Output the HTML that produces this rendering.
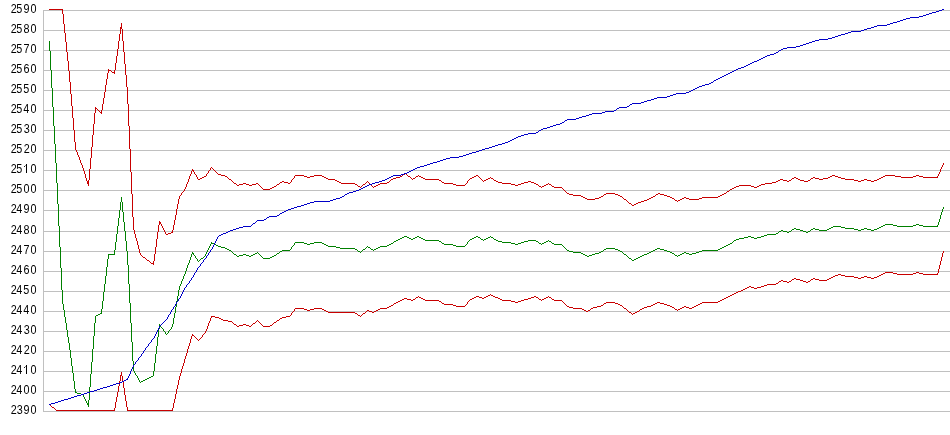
<!DOCTYPE html>
<html><head><meta charset="utf-8"><style>
html,body{margin:0;padding:0;background:#fff;width:950px;height:435px;overflow:hidden}
svg{display:block}
text{will-change:transform;font-family:"Liberation Sans",sans-serif;font-size:12px;fill:#000;text-anchor:start}
</style></head><body>
<svg width="950" height="435" viewBox="0 0 950 435" shape-rendering="crispEdges">
<rect width="950" height="435" fill="#fff"/>
<path fill="#c0c0c0" d="M43 10h907v1h-907zM43 30h907v1h-907zM43 50h907v1h-907zM43 70h907v1h-907zM43 90h907v1h-907zM43 110h907v1h-907zM43 130h907v1h-907zM43 150h907v1h-907zM43 170h907v1h-907zM43 190h907v1h-907zM43 210h907v1h-907zM43 231h907v1h-907zM43 251h907v1h-907zM43 271h907v1h-907zM43 291h907v1h-907zM43 311h907v1h-907zM43 331h907v1h-907zM43 351h907v1h-907zM43 371h907v1h-907zM43 391h907v1h-907zM43 411h907v1h-907zM43 10h1v402h-1z"/>
<g><text transform="translate(10.75 13) scale(0.90 1)">2</text><text transform="translate(16.25 13) scale(0.90 1)">5</text><text transform="translate(23.50 13) scale(0.90 1)">9</text><text transform="translate(30.50 13) scale(0.90 1)">0</text><text transform="translate(10.75 33) scale(0.90 1)">2</text><text transform="translate(16.25 33) scale(0.90 1)">5</text><text transform="translate(23.50 33) scale(0.90 1)">8</text><text transform="translate(30.50 33) scale(0.90 1)">0</text><text transform="translate(10.75 53) scale(0.90 1)">2</text><text transform="translate(16.25 53) scale(0.90 1)">5</text><text transform="translate(23.50 53) scale(0.90 1)">7</text><text transform="translate(30.50 53) scale(0.90 1)">0</text><text transform="translate(10.75 73) scale(0.90 1)">2</text><text transform="translate(16.25 73) scale(0.90 1)">5</text><text transform="translate(23.50 73) scale(0.90 1)">6</text><text transform="translate(30.50 73) scale(0.90 1)">0</text><text transform="translate(10.75 93) scale(0.90 1)">2</text><text transform="translate(16.25 93) scale(0.90 1)">5</text><text transform="translate(23.25 93) scale(0.90 1)">5</text><text transform="translate(30.50 93) scale(0.90 1)">0</text><text transform="translate(10.75 113) scale(0.90 1)">2</text><text transform="translate(16.25 113) scale(0.90 1)">5</text><text transform="translate(23.25 113) scale(0.90 1)">4</text><text transform="translate(30.50 113) scale(0.90 1)">0</text><text transform="translate(10.75 133) scale(0.90 1)">2</text><text transform="translate(16.25 133) scale(0.90 1)">5</text><text transform="translate(23.75 133) scale(0.90 1)">3</text><text transform="translate(30.50 133) scale(0.90 1)">0</text><text transform="translate(10.75 153) scale(0.90 1)">2</text><text transform="translate(16.25 153) scale(0.90 1)">5</text><text transform="translate(23.75 153) scale(0.90 1)">2</text><text transform="translate(30.50 153) scale(0.90 1)">0</text><text transform="translate(10.75 173) scale(0.90 1)">2</text><text transform="translate(16.25 173) scale(0.90 1)">5</text><path fill="#000" d="M26 164h1v9h-1z"/><path fill="#1a1a1a" d="M24 166h1v1h-1z"/><path fill="#8a8a8a" d="M25 165h1v1h-1z"/><text transform="translate(30.50 173) scale(0.90 1)">0</text><text transform="translate(10.75 193) scale(0.90 1)">2</text><text transform="translate(16.25 193) scale(0.90 1)">5</text><text transform="translate(23.50 193) scale(0.90 1)">0</text><text transform="translate(30.50 193) scale(0.90 1)">0</text><text transform="translate(10.75 213) scale(0.90 1)">2</text><text transform="translate(16.25 213) scale(0.90 1)">4</text><text transform="translate(23.50 213) scale(0.90 1)">9</text><text transform="translate(30.50 213) scale(0.90 1)">0</text><text transform="translate(10.75 234) scale(0.90 1)">2</text><text transform="translate(16.25 234) scale(0.90 1)">4</text><text transform="translate(23.50 234) scale(0.90 1)">8</text><text transform="translate(30.50 234) scale(0.90 1)">0</text><text transform="translate(10.75 254) scale(0.90 1)">2</text><text transform="translate(16.25 254) scale(0.90 1)">4</text><text transform="translate(23.50 254) scale(0.90 1)">7</text><text transform="translate(30.50 254) scale(0.90 1)">0</text><text transform="translate(10.75 274) scale(0.90 1)">2</text><text transform="translate(16.25 274) scale(0.90 1)">4</text><text transform="translate(23.50 274) scale(0.90 1)">6</text><text transform="translate(30.50 274) scale(0.90 1)">0</text><text transform="translate(10.75 294) scale(0.90 1)">2</text><text transform="translate(16.25 294) scale(0.90 1)">4</text><text transform="translate(23.25 294) scale(0.90 1)">5</text><text transform="translate(30.50 294) scale(0.90 1)">0</text><text transform="translate(10.75 314) scale(0.90 1)">2</text><text transform="translate(16.25 314) scale(0.90 1)">4</text><text transform="translate(23.25 314) scale(0.90 1)">4</text><text transform="translate(30.50 314) scale(0.90 1)">0</text><text transform="translate(10.75 334) scale(0.90 1)">2</text><text transform="translate(16.25 334) scale(0.90 1)">4</text><text transform="translate(23.75 334) scale(0.90 1)">3</text><text transform="translate(30.50 334) scale(0.90 1)">0</text><text transform="translate(10.75 354) scale(0.90 1)">2</text><text transform="translate(16.25 354) scale(0.90 1)">4</text><text transform="translate(23.75 354) scale(0.90 1)">2</text><text transform="translate(30.50 354) scale(0.90 1)">0</text><text transform="translate(10.75 374) scale(0.90 1)">2</text><text transform="translate(16.25 374) scale(0.90 1)">4</text><path fill="#000" d="M26 365h1v9h-1z"/><path fill="#1a1a1a" d="M24 367h1v1h-1z"/><path fill="#8a8a8a" d="M25 366h1v1h-1z"/><text transform="translate(30.50 374) scale(0.90 1)">0</text><text transform="translate(10.75 394) scale(0.90 1)">2</text><text transform="translate(16.25 394) scale(0.90 1)">4</text><text transform="translate(23.50 394) scale(0.90 1)">0</text><text transform="translate(30.50 394) scale(0.90 1)">0</text><text transform="translate(10.75 414) scale(0.90 1)">2</text><text transform="translate(16.75 414) scale(0.90 1)">3</text><text transform="translate(23.50 414) scale(0.90 1)">9</text><text transform="translate(30.50 414) scale(0.90 1)">0</text></g>
<path fill="#c80000" d="M49 9h14v1h-14zM62 10h1v1h-1zM62 11h1v1h-1zM62 12h1v1h-1zM62 13h1v1h-1zM63 14h1v1h-1zM63 15h1v1h-1zM63 16h1v1h-1zM63 17h1v1h-1zM63 18h1v1h-1zM63 19h1v1h-1zM63 20h1v1h-1zM63 21h1v1h-1zM63 22h1v1h-1zM63 23h1v1h-1zM121 23h1v1h-1zM64 24h1v1h-1zM121 24h1v1h-1zM64 25h1v1h-1zM121 25h1v1h-1zM64 26h1v1h-1zM121 26h1v1h-1zM64 27h1v1h-1zM120 27h2v1h-2zM64 28h1v1h-1zM120 28h2v1h-2zM64 29h1v1h-1zM120 29h1v1h-1zM122 29h1v1h-1zM64 30h1v1h-1zM120 30h1v1h-1zM122 30h1v1h-1zM64 31h1v1h-1zM120 31h1v1h-1zM122 31h1v1h-1zM64 32h1v1h-1zM120 32h1v1h-1zM122 32h1v1h-1zM65 33h1v1h-1zM120 33h1v1h-1zM122 33h1v1h-1zM65 34h1v1h-1zM119 34h1v1h-1zM122 34h1v1h-1zM65 35h1v1h-1zM119 35h1v1h-1zM122 35h1v1h-1zM65 36h1v1h-1zM119 36h1v1h-1zM122 36h1v1h-1zM65 37h1v1h-1zM119 37h1v1h-1zM122 37h1v1h-1zM65 38h1v1h-1zM119 38h1v1h-1zM122 38h1v1h-1zM65 39h1v1h-1zM119 39h1v1h-1zM122 39h1v1h-1zM65 40h1v1h-1zM119 40h1v1h-1zM122 40h1v1h-1zM65 41h1v1h-1zM118 41h1v1h-1zM123 41h1v1h-1zM66 42h1v1h-1zM118 42h1v1h-1zM123 42h1v1h-1zM66 43h1v1h-1zM118 43h1v1h-1zM123 43h1v1h-1zM66 44h1v1h-1zM118 44h1v1h-1zM123 44h1v1h-1zM66 45h1v1h-1zM118 45h1v1h-1zM123 45h1v1h-1zM66 46h1v1h-1zM118 46h1v1h-1zM123 46h1v1h-1zM66 47h1v1h-1zM118 47h1v1h-1zM123 47h1v1h-1zM66 48h1v1h-1zM118 48h1v1h-1zM123 48h1v1h-1zM66 49h1v1h-1zM117 49h1v1h-1zM123 49h1v1h-1zM66 50h1v1h-1zM117 50h1v1h-1zM123 50h1v1h-1zM66 51h1v1h-1zM117 51h1v1h-1zM123 51h1v1h-1zM67 52h1v1h-1zM117 52h1v1h-1zM124 52h1v1h-1zM67 53h1v1h-1zM117 53h1v1h-1zM124 53h1v1h-1zM67 54h1v1h-1zM117 54h1v1h-1zM124 54h1v1h-1zM67 55h1v1h-1zM117 55h1v1h-1zM124 55h1v1h-1zM67 56h1v1h-1zM116 56h1v1h-1zM124 56h1v1h-1zM67 57h1v1h-1zM116 57h1v1h-1zM124 57h1v1h-1zM67 58h1v1h-1zM116 58h1v1h-1zM124 58h1v1h-1zM67 59h1v1h-1zM116 59h1v1h-1zM124 59h1v1h-1zM67 60h1v1h-1zM116 60h1v1h-1zM124 60h1v1h-1zM68 61h1v1h-1zM116 61h1v1h-1zM124 61h1v1h-1zM68 62h1v1h-1zM116 62h1v1h-1zM124 62h1v1h-1zM68 63h1v1h-1zM115 63h1v1h-1zM124 63h1v1h-1zM68 64h1v1h-1zM115 64h1v1h-1zM125 64h1v1h-1zM68 65h1v1h-1zM115 65h1v1h-1zM125 65h1v1h-1zM68 66h1v1h-1zM115 66h1v1h-1zM125 66h1v1h-1zM68 67h1v1h-1zM115 67h1v1h-1zM125 67h1v1h-1zM68 68h1v1h-1zM115 68h1v1h-1zM125 68h1v1h-1zM68 69h1v1h-1zM108 69h1v1h-1zM115 69h1v1h-1zM125 69h1v1h-1zM68 70h1v1h-1zM108 70h3v1h-3zM114 70h1v1h-1zM125 70h1v1h-1zM69 71h1v1h-1zM108 71h1v1h-1zM111 71h1v1h-1zM114 71h1v1h-1zM125 71h1v1h-1zM69 72h1v1h-1zM108 72h1v1h-1zM112 72h3v1h-3zM125 72h1v1h-1zM69 73h1v1h-1zM107 73h1v1h-1zM114 73h1v1h-1zM125 73h1v1h-1zM69 74h1v1h-1zM107 74h1v1h-1zM125 74h1v1h-1zM69 75h1v1h-1zM107 75h1v1h-1zM126 75h1v1h-1zM69 76h1v1h-1zM107 76h1v1h-1zM126 76h1v1h-1zM69 77h1v1h-1zM107 77h1v1h-1zM126 77h1v1h-1zM69 78h1v1h-1zM107 78h1v1h-1zM126 78h1v1h-1zM69 79h1v1h-1zM106 79h1v1h-1zM126 79h1v1h-1zM69 80h1v1h-1zM106 80h1v1h-1zM126 80h1v1h-1zM69 81h1v1h-1zM106 81h1v1h-1zM126 81h1v1h-1zM70 82h1v1h-1zM106 82h1v1h-1zM126 82h1v1h-1zM70 83h1v1h-1zM106 83h1v1h-1zM126 83h1v1h-1zM70 84h1v1h-1zM106 84h1v1h-1zM126 84h1v1h-1zM70 85h1v1h-1zM105 85h1v1h-1zM126 85h1v1h-1zM70 86h1v1h-1zM105 86h1v1h-1zM126 86h1v1h-1zM70 87h1v1h-1zM105 87h1v1h-1zM127 87h1v1h-1zM70 88h1v1h-1zM105 88h1v1h-1zM127 88h1v1h-1zM70 89h1v1h-1zM105 89h1v1h-1zM127 89h1v1h-1zM70 90h1v1h-1zM105 90h1v1h-1zM127 90h1v1h-1zM70 91h1v1h-1zM105 91h1v1h-1zM127 91h1v1h-1zM70 92h1v1h-1zM104 92h1v1h-1zM127 92h1v1h-1zM70 93h1v1h-1zM104 93h1v1h-1zM127 93h1v1h-1zM71 94h1v1h-1zM104 94h1v1h-1zM127 94h1v1h-1zM71 95h1v1h-1zM104 95h1v1h-1zM127 95h1v1h-1zM71 96h1v1h-1zM104 96h1v1h-1zM127 96h1v1h-1zM71 97h1v1h-1zM104 97h1v1h-1zM127 97h1v1h-1zM71 98h1v1h-1zM103 98h1v1h-1zM127 98h1v1h-1zM71 99h1v1h-1zM103 99h1v1h-1zM127 99h1v1h-1zM71 100h1v1h-1zM103 100h1v1h-1zM127 100h1v1h-1zM71 101h1v1h-1zM103 101h1v1h-1zM127 101h1v1h-1zM71 102h1v1h-1zM103 102h1v1h-1zM127 102h1v1h-1zM71 103h1v1h-1zM103 103h1v1h-1zM127 103h1v1h-1zM71 104h1v1h-1zM102 104h1v1h-1zM128 104h1v1h-1zM71 105h1v1h-1zM102 105h1v1h-1zM128 105h1v1h-1zM72 106h1v1h-1zM102 106h1v1h-1zM128 106h1v1h-1zM72 107h1v1h-1zM95 107h1v1h-1zM102 107h1v1h-1zM128 107h1v1h-1zM72 108h1v1h-1zM95 108h2v1h-2zM102 108h1v1h-1zM128 108h1v1h-1zM72 109h1v1h-1zM95 109h1v1h-1zM97 109h1v1h-1zM102 109h1v1h-1zM128 109h1v1h-1zM72 110h1v1h-1zM95 110h1v1h-1zM98 110h1v1h-1zM101 110h1v1h-1zM128 110h1v1h-1zM72 111h1v1h-1zM95 111h1v1h-1zM99 111h1v1h-1zM101 111h1v1h-1zM128 111h1v1h-1zM72 112h1v1h-1zM95 112h1v1h-1zM100 112h2v1h-2zM128 112h1v1h-1zM72 113h1v1h-1zM94 113h1v1h-1zM101 113h1v1h-1zM128 113h1v1h-1zM72 114h1v1h-1zM94 114h1v1h-1zM128 114h1v1h-1zM72 115h1v1h-1zM94 115h1v1h-1zM128 115h1v1h-1zM72 116h1v1h-1zM94 116h1v1h-1zM128 116h1v1h-1zM72 117h1v1h-1zM94 117h1v1h-1zM128 117h1v1h-1zM73 118h1v1h-1zM94 118h1v1h-1zM128 118h1v1h-1zM73 119h1v1h-1zM94 119h1v1h-1zM128 119h1v1h-1zM73 120h1v1h-1zM94 120h1v1h-1zM128 120h1v1h-1zM73 121h1v1h-1zM94 121h1v1h-1zM128 121h1v1h-1zM73 122h1v1h-1zM94 122h1v1h-1zM128 122h1v1h-1zM73 123h1v1h-1zM94 123h1v1h-1zM128 123h1v1h-1zM73 124h1v1h-1zM93 124h1v1h-1zM128 124h1v1h-1zM73 125h1v1h-1zM93 125h1v1h-1zM128 125h1v1h-1zM73 126h1v1h-1zM93 126h1v1h-1zM129 126h1v1h-1zM73 127h1v1h-1zM93 127h1v1h-1zM129 127h1v1h-1zM73 128h1v1h-1zM93 128h1v1h-1zM129 128h1v1h-1zM73 129h1v1h-1zM93 129h1v1h-1zM129 129h1v1h-1zM74 130h1v1h-1zM93 130h1v1h-1zM129 130h1v1h-1zM74 131h1v1h-1zM93 131h1v1h-1zM129 131h1v1h-1zM74 132h1v1h-1zM93 132h1v1h-1zM129 132h1v1h-1zM74 133h1v1h-1zM93 133h1v1h-1zM129 133h1v1h-1zM74 134h1v1h-1zM93 134h1v1h-1zM129 134h1v1h-1zM74 135h1v1h-1zM92 135h1v1h-1zM129 135h1v1h-1zM74 136h1v1h-1zM92 136h1v1h-1zM129 136h1v1h-1zM74 137h1v1h-1zM92 137h1v1h-1zM129 137h1v1h-1zM74 138h1v1h-1zM92 138h1v1h-1zM129 138h1v1h-1zM74 139h1v1h-1zM92 139h1v1h-1zM129 139h1v1h-1zM74 140h1v1h-1zM92 140h1v1h-1zM129 140h1v1h-1zM74 141h1v1h-1zM92 141h1v1h-1zM129 141h1v1h-1zM75 142h1v1h-1zM92 142h1v1h-1zM129 142h1v1h-1zM75 143h1v1h-1zM92 143h1v1h-1zM129 143h1v1h-1zM75 144h1v1h-1zM92 144h1v1h-1zM129 144h1v1h-1zM75 145h1v1h-1zM92 145h1v1h-1zM129 145h1v1h-1zM75 146h1v1h-1zM92 146h1v1h-1zM129 146h1v1h-1zM75 147h1v1h-1zM91 147h1v1h-1zM129 147h1v1h-1zM75 148h1v1h-1zM91 148h1v1h-1zM129 148h1v1h-1zM75 149h1v1h-1zM91 149h1v1h-1zM130 149h1v1h-1zM76 150h1v1h-1zM91 150h1v1h-1zM130 150h1v1h-1zM76 151h1v1h-1zM91 151h1v1h-1zM130 151h1v1h-1zM77 152h1v1h-1zM91 152h1v1h-1zM130 152h1v1h-1zM77 153h1v1h-1zM91 153h1v1h-1zM130 153h1v1h-1zM77 154h1v1h-1zM91 154h1v1h-1zM130 154h1v1h-1zM78 155h1v1h-1zM91 155h1v1h-1zM130 155h1v1h-1zM78 156h1v1h-1zM91 156h1v1h-1zM130 156h1v1h-1zM79 157h1v1h-1zM91 157h1v1h-1zM130 157h1v1h-1zM79 158h1v1h-1zM90 158h1v1h-1zM130 158h1v1h-1zM79 159h1v1h-1zM90 159h1v1h-1zM130 159h1v1h-1zM80 160h1v1h-1zM90 160h1v1h-1zM130 160h1v1h-1zM80 161h1v1h-1zM90 161h1v1h-1zM130 161h1v1h-1zM80 162h1v1h-1zM90 162h1v1h-1zM130 162h1v1h-1zM81 163h1v1h-1zM90 163h1v1h-1zM130 163h1v1h-1zM943 163h1v1h-1zM81 164h1v1h-1zM90 164h1v1h-1zM130 164h1v1h-1zM943 164h1v1h-1zM82 165h1v1h-1zM90 165h1v1h-1zM130 165h1v1h-1zM942 165h1v1h-1zM82 166h1v1h-1zM90 166h1v1h-1zM130 166h1v1h-1zM942 166h1v1h-1zM82 167h1v1h-1zM90 167h1v1h-1zM130 167h1v1h-1zM211 167h1v1h-1zM941 167h1v1h-1zM83 168h1v1h-1zM90 168h1v1h-1zM130 168h1v1h-1zM210 168h1v1h-1zM212 168h1v1h-1zM941 168h1v1h-1zM83 169h1v1h-1zM89 169h1v1h-1zM130 169h1v1h-1zM192 169h1v1h-1zM210 169h1v1h-1zM213 169h1v1h-1zM940 169h1v1h-1zM83 170h1v1h-1zM89 170h1v1h-1zM130 170h1v1h-1zM192 170h2v1h-2zM209 170h1v1h-1zM214 170h1v1h-1zM940 170h1v1h-1zM84 171h1v1h-1zM89 171h1v1h-1zM130 171h1v1h-1zM191 171h1v1h-1zM193 171h1v1h-1zM208 171h1v1h-1zM215 171h1v1h-1zM940 171h1v1h-1zM84 172h1v1h-1zM89 172h1v1h-1zM131 172h1v1h-1zM191 172h1v1h-1zM194 172h1v1h-1zM208 172h1v1h-1zM216 172h1v1h-1zM939 172h1v1h-1zM84 173h1v1h-1zM89 173h1v1h-1zM131 173h1v1h-1zM191 173h1v1h-1zM194 173h1v1h-1zM207 173h1v1h-1zM217 173h1v1h-1zM405 173h1v1h-1zM939 173h1v1h-1zM85 174h1v1h-1zM89 174h1v1h-1zM131 174h1v1h-1zM190 174h1v1h-1zM195 174h1v1h-1zM206 174h1v1h-1zM218 174h3v1h-3zM403 174h2v1h-2zM406 174h1v1h-1zM938 174h1v1h-1zM85 175h1v1h-1zM89 175h1v1h-1zM131 175h1v1h-1zM190 175h1v1h-1zM196 175h1v1h-1zM206 175h1v1h-1zM221 175h4v1h-4zM295 175h9v1h-9zM314 175h8v1h-8zM402 175h1v1h-1zM407 175h1v1h-1zM418 175h1v1h-1zM476 175h2v1h-2zM832 175h3v1h-3zM885 175h10v1h-10zM916 175h3v1h-3zM938 175h1v1h-1zM85 176h1v1h-1zM89 176h1v1h-1zM131 176h1v1h-1zM189 176h1v1h-1zM196 176h1v1h-1zM204 176h2v1h-2zM225 176h2v1h-2zM294 176h1v1h-1zM304 176h3v1h-3zM310 176h4v1h-4zM322 176h2v1h-2zM400 176h2v1h-2zM408 176h2v1h-2zM416 176h2v1h-2zM419 176h2v1h-2zM474 176h2v1h-2zM478 176h1v1h-1zM830 176h2v1h-2zM835 176h3v1h-3zM883 176h2v1h-2zM895 176h6v1h-6zM913 176h3v1h-3zM919 176h4v1h-4zM937 176h1v1h-1zM85 177h1v1h-1zM89 177h1v1h-1zM131 177h1v1h-1zM189 177h1v1h-1zM197 177h1v1h-1zM202 177h2v1h-2zM227 177h1v1h-1zM294 177h1v1h-1zM307 177h3v1h-3zM324 177h2v1h-2zM396 177h4v1h-4zM410 177h1v1h-1zM415 177h1v1h-1zM421 177h2v1h-2zM472 177h2v1h-2zM479 177h1v1h-1zM490 177h1v1h-1zM794 177h2v1h-2zM813 177h2v1h-2zM828 177h2v1h-2zM838 177h3v1h-3zM881 177h2v1h-2zM901 177h12v1h-12zM923 177h15v1h-15zM86 178h1v1h-1zM89 178h1v1h-1zM131 178h1v1h-1zM189 178h1v1h-1zM197 178h1v1h-1zM200 178h2v1h-2zM228 178h1v1h-1zM293 178h1v1h-1zM326 178h2v1h-2zM393 178h3v1h-3zM411 178h1v1h-1zM413 178h2v1h-2zM423 178h2v1h-2zM470 178h2v1h-2zM480 178h1v1h-1zM488 178h2v1h-2zM491 178h2v1h-2zM792 178h2v1h-2zM796 178h2v1h-2zM811 178h2v1h-2zM815 178h4v1h-4zM823 178h5v1h-5zM841 178h4v1h-4zM879 178h2v1h-2zM86 179h1v1h-1zM89 179h1v1h-1zM131 179h1v1h-1zM188 179h1v1h-1zM198 179h2v1h-2zM229 179h2v1h-2zM292 179h1v1h-1zM328 179h7v1h-7zM391 179h2v1h-2zM412 179h1v1h-1zM425 179h14v1h-14zM469 179h1v1h-1zM481 179h1v1h-1zM486 179h2v1h-2zM493 179h1v1h-1zM780 179h3v1h-3zM791 179h1v1h-1zM798 179h2v1h-2zM810 179h1v1h-1zM819 179h4v1h-4zM845 179h9v1h-9zM864 179h3v1h-3zM877 179h2v1h-2zM86 180h1v1h-1zM88 180h1v1h-1zM131 180h1v1h-1zM188 180h1v1h-1zM231 180h1v1h-1zM291 180h1v1h-1zM335 180h2v1h-2zM390 180h1v1h-1zM439 180h2v1h-2zM468 180h1v1h-1zM482 180h1v1h-1zM484 180h2v1h-2zM494 180h2v1h-2zM778 180h2v1h-2zM783 180h4v1h-4zM789 180h2v1h-2zM800 180h4v1h-4zM808 180h2v1h-2zM854 180h4v1h-4zM861 180h3v1h-3zM867 180h4v1h-4zM874 180h3v1h-3zM87 181h2v1h-2zM131 181h1v1h-1zM188 181h1v1h-1zM232 181h1v1h-1zM282 181h2v1h-2zM291 181h1v1h-1zM337 181h2v1h-2zM367 181h1v1h-1zM389 181h1v1h-1zM441 181h1v1h-1zM467 181h1v1h-1zM483 181h1v1h-1zM496 181h2v1h-2zM528 181h3v1h-3zM776 181h2v1h-2zM787 181h2v1h-2zM804 181h4v1h-4zM858 181h3v1h-3zM871 181h3v1h-3zM87 182h2v1h-2zM131 182h1v1h-1zM187 182h1v1h-1zM233 182h1v1h-1zM280 182h2v1h-2zM284 182h4v1h-4zM290 182h1v1h-1zM339 182h2v1h-2zM366 182h1v1h-1zM368 182h1v1h-1zM387 182h2v1h-2zM442 182h2v1h-2zM467 182h1v1h-1zM498 182h4v1h-4zM524 182h4v1h-4zM531 182h3v1h-3zM772 182h4v1h-4zM87 183h2v1h-2zM131 183h1v1h-1zM187 183h1v1h-1zM234 183h2v1h-2zM243 183h3v1h-3zM256 183h2v1h-2zM279 183h1v1h-1zM288 183h2v1h-2zM341 183h14v1h-14zM365 183h1v1h-1zM369 183h1v1h-1zM380 183h7v1h-7zM444 183h9v1h-9zM466 183h1v1h-1zM502 183h9v1h-9zM521 183h3v1h-3zM534 183h2v1h-2zM548 183h1v1h-1zM765 183h7v1h-7zM88 184h1v1h-1zM131 184h1v1h-1zM186 184h1v1h-1zM236 184h1v1h-1zM239 184h4v1h-4zM246 184h3v1h-3zM252 184h4v1h-4zM258 184h1v1h-1zM277 184h2v1h-2zM355 184h2v1h-2zM363 184h2v1h-2zM370 184h1v1h-1zM378 184h2v1h-2zM453 184h3v1h-3zM465 184h1v1h-1zM511 184h4v1h-4zM518 184h3v1h-3zM536 184h2v1h-2zM546 184h2v1h-2zM549 184h2v1h-2zM761 184h4v1h-4zM88 185h1v1h-1zM131 185h1v1h-1zM186 185h1v1h-1zM237 185h2v1h-2zM249 185h3v1h-3zM259 185h1v1h-1zM276 185h1v1h-1zM357 185h1v1h-1zM362 185h1v1h-1zM371 185h1v1h-1zM376 185h2v1h-2zM456 185h9v1h-9zM515 185h3v1h-3zM538 185h1v1h-1zM544 185h2v1h-2zM551 185h1v1h-1zM739 185h12v1h-12zM759 185h2v1h-2zM131 186h1v1h-1zM186 186h1v1h-1zM260 186h1v1h-1zM274 186h2v1h-2zM358 186h2v1h-2zM361 186h1v1h-1zM372 186h1v1h-1zM374 186h2v1h-2zM539 186h2v1h-2zM542 186h2v1h-2zM552 186h2v1h-2zM736 186h3v1h-3zM751 186h3v1h-3zM757 186h2v1h-2zM131 187h1v1h-1zM185 187h1v1h-1zM261 187h1v1h-1zM272 187h2v1h-2zM360 187h1v1h-1zM373 187h1v1h-1zM541 187h1v1h-1zM554 187h8v1h-8zM734 187h2v1h-2zM754 187h3v1h-3zM131 188h1v1h-1zM185 188h1v1h-1zM262 188h1v1h-1zM270 188h2v1h-2zM562 188h1v1h-1zM732 188h2v1h-2zM131 189h1v1h-1zM184 189h1v1h-1zM263 189h7v1h-7zM563 189h1v1h-1zM730 189h2v1h-2zM131 190h1v1h-1zM184 190h1v1h-1zM564 190h1v1h-1zM729 190h1v1h-1zM131 191h1v1h-1zM183 191h1v1h-1zM565 191h1v1h-1zM727 191h2v1h-2zM131 192h1v1h-1zM182 192h1v1h-1zM566 192h1v1h-1zM726 192h1v1h-1zM131 193h1v1h-1zM181 193h1v1h-1zM567 193h2v1h-2zM606 193h9v1h-9zM658 193h2v1h-2zM724 193h2v1h-2zM132 194h1v1h-1zM181 194h1v1h-1zM569 194h4v1h-4zM604 194h2v1h-2zM615 194h3v1h-3zM656 194h2v1h-2zM660 194h4v1h-4zM722 194h2v1h-2zM132 195h1v1h-1zM180 195h1v1h-1zM573 195h8v1h-8zM603 195h1v1h-1zM618 195h2v1h-2zM655 195h1v1h-1zM664 195h3v1h-3zM720 195h2v1h-2zM132 196h1v1h-1zM179 196h1v1h-1zM581 196h2v1h-2zM601 196h2v1h-2zM620 196h2v1h-2zM653 196h2v1h-2zM667 196h3v1h-3zM718 196h2v1h-2zM132 197h1v1h-1zM179 197h1v1h-1zM583 197h2v1h-2zM599 197h2v1h-2zM622 197h1v1h-1zM651 197h2v1h-2zM670 197h2v1h-2zM684 197h2v1h-2zM702 197h16v1h-16zM132 198h1v1h-1zM179 198h1v1h-1zM585 198h2v1h-2zM595 198h4v1h-4zM623 198h1v1h-1zM649 198h2v1h-2zM672 198h2v1h-2zM682 198h2v1h-2zM686 198h3v1h-3zM699 198h3v1h-3zM132 199h1v1h-1zM178 199h1v1h-1zM587 199h8v1h-8zM624 199h2v1h-2zM647 199h2v1h-2zM674 199h1v1h-1zM680 199h2v1h-2zM689 199h10v1h-10zM132 200h1v1h-1zM178 200h1v1h-1zM626 200h1v1h-1zM644 200h3v1h-3zM675 200h2v1h-2zM678 200h2v1h-2zM132 201h1v1h-1zM178 201h1v1h-1zM627 201h1v1h-1zM641 201h3v1h-3zM677 201h1v1h-1zM132 202h1v1h-1zM178 202h1v1h-1zM628 202h1v1h-1zM638 202h3v1h-3zM132 203h1v1h-1zM178 203h1v1h-1zM629 203h2v1h-2zM636 203h2v1h-2zM132 204h1v1h-1zM177 204h1v1h-1zM631 204h1v1h-1zM634 204h2v1h-2zM132 205h1v1h-1zM177 205h1v1h-1zM632 205h2v1h-2zM132 206h1v1h-1zM177 206h1v1h-1zM132 207h1v1h-1zM177 207h1v1h-1zM132 208h1v1h-1zM177 208h1v1h-1zM132 209h1v1h-1zM176 209h1v1h-1zM132 210h1v1h-1zM176 210h1v1h-1zM132 211h1v1h-1zM176 211h1v1h-1zM132 212h1v1h-1zM176 212h1v1h-1zM132 213h1v1h-1zM176 213h1v1h-1zM132 214h1v1h-1zM176 214h1v1h-1zM132 215h1v1h-1zM175 215h1v1h-1zM132 216h1v1h-1zM175 216h1v1h-1zM133 217h1v1h-1zM175 217h1v1h-1zM133 218h1v1h-1zM175 218h1v1h-1zM133 219h1v1h-1zM175 219h1v1h-1zM133 220h1v1h-1zM174 220h1v1h-1zM133 221h1v1h-1zM159 221h1v1h-1zM174 221h1v1h-1zM133 222h1v1h-1zM159 222h2v1h-2zM174 222h1v1h-1zM133 223h1v1h-1zM159 223h2v1h-2zM174 223h1v1h-1zM133 224h1v1h-1zM159 224h1v1h-1zM161 224h1v1h-1zM174 224h1v1h-1zM133 225h1v1h-1zM158 225h1v1h-1zM161 225h1v1h-1zM173 225h1v1h-1zM133 226h1v1h-1zM158 226h1v1h-1zM162 226h1v1h-1zM173 226h1v1h-1zM133 227h1v1h-1zM158 227h1v1h-1zM162 227h1v1h-1zM173 227h1v1h-1zM133 228h1v1h-1zM158 228h1v1h-1zM163 228h1v1h-1zM173 228h1v1h-1zM133 229h1v1h-1zM158 229h1v1h-1zM163 229h1v1h-1zM173 229h1v1h-1zM134 230h1v1h-1zM158 230h1v1h-1zM164 230h1v1h-1zM172 230h1v1h-1zM134 231h1v1h-1zM158 231h1v1h-1zM164 231h1v1h-1zM172 231h1v1h-1zM134 232h1v1h-1zM157 232h1v1h-1zM165 232h1v1h-1zM171 232h2v1h-2zM134 233h1v1h-1zM157 233h1v1h-1zM165 233h1v1h-1zM168 233h3v1h-3zM135 234h1v1h-1zM157 234h1v1h-1zM166 234h2v1h-2zM135 235h1v1h-1zM157 235h1v1h-1zM135 236h1v1h-1zM157 236h1v1h-1zM135 237h1v1h-1zM157 237h1v1h-1zM136 238h1v1h-1zM157 238h1v1h-1zM136 239h1v1h-1zM156 239h1v1h-1zM136 240h1v1h-1zM156 240h1v1h-1zM137 241h1v1h-1zM156 241h1v1h-1zM137 242h1v1h-1zM156 242h1v1h-1zM137 243h1v1h-1zM156 243h1v1h-1zM137 244h1v1h-1zM156 244h1v1h-1zM138 245h1v1h-1zM156 245h1v1h-1zM138 246h1v1h-1zM156 246h1v1h-1zM138 247h1v1h-1zM155 247h1v1h-1zM138 248h1v1h-1zM155 248h1v1h-1zM139 249h1v1h-1zM155 249h1v1h-1zM139 250h1v1h-1zM155 250h1v1h-1zM139 251h1v1h-1zM155 251h1v1h-1zM139 252h1v1h-1zM155 252h1v1h-1zM140 253h1v1h-1zM155 253h1v1h-1zM140 254h1v1h-1zM154 254h1v1h-1zM141 255h1v1h-1zM154 255h1v1h-1zM142 256h1v1h-1zM154 256h1v1h-1zM143 257h2v1h-2zM154 257h1v1h-1zM145 258h1v1h-1zM154 258h1v1h-1zM146 259h1v1h-1zM154 259h1v1h-1zM147 260h2v1h-2zM154 260h1v1h-1zM149 261h1v1h-1zM153 261h1v1h-1zM150 262h1v1h-1zM153 262h1v1h-1zM151 263h3v1h-3zM153 264h1v1h-1z"/>
<path fill="#c80000" d="M943 251h1v1h-1zM943 252h1v1h-1zM942 253h1v1h-1zM942 254h1v1h-1zM942 255h1v1h-1zM942 256h1v1h-1zM941 257h1v1h-1zM941 258h1v1h-1zM941 259h1v1h-1zM941 260h1v1h-1zM940 261h1v1h-1zM940 262h1v1h-1zM940 263h1v1h-1zM940 264h1v1h-1zM939 265h1v1h-1zM939 266h1v1h-1zM939 267h1v1h-1zM939 268h1v1h-1zM938 269h1v1h-1zM938 270h1v1h-1zM938 271h1v1h-1zM885 272h8v1h-8zM916 272h3v1h-3zM938 272h1v1h-1zM883 273h2v1h-2zM893 273h4v1h-4zM913 273h3v1h-3zM919 273h4v1h-4zM937 273h1v1h-1zM838 274h3v1h-3zM881 274h2v1h-2zM897 274h16v1h-16zM923 274h15v1h-15zM835 275h3v1h-3zM841 275h4v1h-4zM879 275h2v1h-2zM833 276h2v1h-2zM845 276h9v1h-9zM864 276h3v1h-3zM877 276h2v1h-2zM831 277h2v1h-2zM854 277h4v1h-4zM861 277h3v1h-3zM867 277h4v1h-4zM874 277h3v1h-3zM794 278h2v1h-2zM813 278h2v1h-2zM829 278h2v1h-2zM858 278h3v1h-3zM871 278h3v1h-3zM792 279h2v1h-2zM796 279h4v1h-4zM811 279h2v1h-2zM815 279h4v1h-4zM827 279h2v1h-2zM781 280h2v1h-2zM791 280h1v1h-1zM800 280h3v1h-3zM810 280h1v1h-1zM819 280h8v1h-8zM779 281h2v1h-2zM783 281h4v1h-4zM789 281h2v1h-2zM803 281h3v1h-3zM808 281h2v1h-2zM778 282h1v1h-1zM787 282h2v1h-2zM806 282h2v1h-2zM776 283h2v1h-2zM767 284h9v1h-9zM764 285h3v1h-3zM749 286h2v1h-2zM761 286h3v1h-3zM747 287h2v1h-2zM751 287h3v1h-3zM757 287h4v1h-4zM745 288h2v1h-2zM754 288h3v1h-3zM743 289h2v1h-2zM741 290h2v1h-2zM738 291h3v1h-3zM736 292h2v1h-2zM734 293h2v1h-2zM490 294h1v1h-1zM732 294h2v1h-2zM488 295h2v1h-2zM491 295h2v1h-2zM730 295h2v1h-2zM418 296h1v1h-1zM476 296h3v1h-3zM486 296h2v1h-2zM493 296h2v1h-2zM534 296h2v1h-2zM548 296h1v1h-1zM728 296h2v1h-2zM416 297h2v1h-2zM419 297h2v1h-2zM474 297h2v1h-2zM479 297h3v1h-3zM484 297h2v1h-2zM495 297h3v1h-3zM531 297h3v1h-3zM536 297h2v1h-2zM546 297h2v1h-2zM549 297h2v1h-2zM726 297h2v1h-2zM404 298h3v1h-3zM415 298h1v1h-1zM421 298h2v1h-2zM472 298h2v1h-2zM482 298h2v1h-2zM498 298h2v1h-2zM528 298h3v1h-3zM538 298h1v1h-1zM544 298h2v1h-2zM551 298h1v1h-1zM724 298h2v1h-2zM402 299h2v1h-2zM407 299h4v1h-4zM413 299h2v1h-2zM423 299h2v1h-2zM470 299h2v1h-2zM500 299h2v1h-2zM524 299h4v1h-4zM539 299h2v1h-2zM542 299h2v1h-2zM552 299h2v1h-2zM722 299h2v1h-2zM400 300h2v1h-2zM411 300h2v1h-2zM425 300h14v1h-14zM469 300h1v1h-1zM502 300h9v1h-9zM521 300h3v1h-3zM541 300h1v1h-1zM554 300h8v1h-8zM720 300h2v1h-2zM398 301h2v1h-2zM439 301h2v1h-2zM468 301h1v1h-1zM511 301h4v1h-4zM518 301h3v1h-3zM562 301h1v1h-1zM718 301h2v1h-2zM396 302h2v1h-2zM441 302h1v1h-1zM467 302h1v1h-1zM515 302h3v1h-3zM563 302h1v1h-1zM606 302h9v1h-9zM657 302h3v1h-3zM702 302h16v1h-16zM394 303h2v1h-2zM442 303h2v1h-2zM467 303h1v1h-1zM564 303h1v1h-1zM604 303h2v1h-2zM615 303h3v1h-3zM655 303h2v1h-2zM660 303h4v1h-4zM700 303h2v1h-2zM393 304h1v1h-1zM444 304h9v1h-9zM466 304h1v1h-1zM565 304h1v1h-1zM603 304h1v1h-1zM618 304h2v1h-2zM653 304h2v1h-2zM664 304h3v1h-3zM698 304h2v1h-2zM391 305h2v1h-2zM453 305h3v1h-3zM465 305h1v1h-1zM566 305h1v1h-1zM601 305h2v1h-2zM620 305h2v1h-2zM651 305h2v1h-2zM667 305h3v1h-3zM696 305h2v1h-2zM389 306h2v1h-2zM456 306h9v1h-9zM567 306h2v1h-2zM597 306h4v1h-4zM622 306h1v1h-1zM647 306h4v1h-4zM670 306h2v1h-2zM684 306h2v1h-2zM694 306h2v1h-2zM387 307h2v1h-2zM569 307h4v1h-4zM593 307h4v1h-4zM623 307h1v1h-1zM644 307h3v1h-3zM672 307h2v1h-2zM682 307h2v1h-2zM686 307h3v1h-3zM692 307h2v1h-2zM295 308h9v1h-9zM314 308h8v1h-8zM380 308h7v1h-7zM573 308h9v1h-9zM591 308h2v1h-2zM624 308h2v1h-2zM642 308h2v1h-2zM674 308h1v1h-1zM680 308h2v1h-2zM689 308h3v1h-3zM294 309h1v1h-1zM304 309h3v1h-3zM310 309h4v1h-4zM322 309h2v1h-2zM378 309h2v1h-2zM582 309h2v1h-2zM590 309h1v1h-1zM626 309h1v1h-1zM640 309h2v1h-2zM675 309h2v1h-2zM678 309h2v1h-2zM294 310h1v1h-1zM307 310h3v1h-3zM324 310h2v1h-2zM367 310h2v1h-2zM376 310h2v1h-2zM584 310h2v1h-2zM588 310h2v1h-2zM627 310h1v1h-1zM639 310h1v1h-1zM677 310h1v1h-1zM293 311h1v1h-1zM326 311h2v1h-2zM366 311h1v1h-1zM369 311h3v1h-3zM374 311h2v1h-2zM586 311h2v1h-2zM628 311h1v1h-1zM637 311h2v1h-2zM292 312h1v1h-1zM328 312h27v1h-27zM365 312h1v1h-1zM372 312h2v1h-2zM629 312h2v1h-2zM635 312h2v1h-2zM291 313h1v1h-1zM355 313h2v1h-2zM363 313h2v1h-2zM631 313h1v1h-1zM633 313h2v1h-2zM291 314h1v1h-1zM357 314h1v1h-1zM362 314h1v1h-1zM632 314h1v1h-1zM290 315h1v1h-1zM358 315h2v1h-2zM361 315h1v1h-1zM211 316h4v1h-4zM286 316h4v1h-4zM360 316h1v1h-1zM211 317h1v1h-1zM215 317h4v1h-4zM282 317h4v1h-4zM210 318h1v1h-1zM219 318h2v1h-2zM280 318h2v1h-2zM210 319h1v1h-1zM221 319h2v1h-2zM279 319h1v1h-1zM210 320h1v1h-1zM223 320h5v1h-5zM257 320h1v1h-1zM277 320h2v1h-2zM209 321h1v1h-1zM228 321h4v1h-4zM256 321h1v1h-1zM258 321h1v1h-1zM276 321h1v1h-1zM209 322h1v1h-1zM232 322h1v1h-1zM255 322h1v1h-1zM259 322h1v1h-1zM274 322h2v1h-2zM208 323h1v1h-1zM233 323h1v1h-1zM253 323h2v1h-2zM260 323h1v1h-1zM273 323h1v1h-1zM208 324h1v1h-1zM234 324h2v1h-2zM243 324h3v1h-3zM252 324h1v1h-1zM261 324h1v1h-1zM272 324h1v1h-1zM208 325h1v1h-1zM236 325h1v1h-1zM239 325h4v1h-4zM246 325h3v1h-3zM251 325h1v1h-1zM262 325h1v1h-1zM270 325h2v1h-2zM207 326h1v1h-1zM237 326h2v1h-2zM249 326h2v1h-2zM263 326h7v1h-7zM207 327h1v1h-1zM207 328h1v1h-1zM206 329h1v1h-1zM206 330h1v1h-1zM205 331h1v1h-1zM205 332h1v1h-1zM204 333h1v1h-1zM192 334h1v1h-1zM203 334h1v1h-1zM192 335h2v1h-2zM202 335h1v1h-1zM191 336h1v1h-1zM194 336h1v1h-1zM202 336h1v1h-1zM191 337h1v1h-1zM195 337h1v1h-1zM201 337h1v1h-1zM191 338h1v1h-1zM196 338h1v1h-1zM200 338h1v1h-1zM190 339h1v1h-1zM197 339h1v1h-1zM199 339h1v1h-1zM190 340h1v1h-1zM198 340h1v1h-1zM190 341h1v1h-1zM190 342h1v1h-1zM189 343h1v1h-1zM189 344h1v1h-1zM189 345h1v1h-1zM188 346h1v1h-1zM188 347h1v1h-1zM188 348h1v1h-1zM187 349h1v1h-1zM187 350h1v1h-1zM187 351h1v1h-1zM187 352h1v1h-1zM186 353h1v1h-1zM186 354h1v1h-1zM186 355h1v1h-1zM185 356h1v1h-1zM185 357h1v1h-1zM185 358h1v1h-1zM184 359h1v1h-1zM184 360h1v1h-1zM184 361h1v1h-1zM184 362h1v1h-1zM183 363h1v1h-1zM183 364h1v1h-1zM183 365h1v1h-1zM182 366h1v1h-1zM182 367h1v1h-1zM182 368h1v1h-1zM181 369h1v1h-1zM181 370h1v1h-1zM181 371h1v1h-1zM121 372h1v1h-1zM181 372h1v1h-1zM121 373h1v1h-1zM180 373h1v1h-1zM121 374h1v1h-1zM180 374h1v1h-1zM120 375h2v1h-2zM180 375h1v1h-1zM120 376h1v1h-1zM122 376h1v1h-1zM179 376h1v1h-1zM120 377h1v1h-1zM122 377h1v1h-1zM179 377h1v1h-1zM120 378h1v1h-1zM122 378h1v1h-1zM179 378h1v1h-1zM120 379h1v1h-1zM122 379h1v1h-1zM179 379h1v1h-1zM120 380h1v1h-1zM122 380h1v1h-1zM178 380h1v1h-1zM119 381h1v1h-1zM122 381h1v1h-1zM178 381h1v1h-1zM119 382h1v1h-1zM123 382h1v1h-1zM178 382h1v1h-1zM119 383h1v1h-1zM123 383h1v1h-1zM178 383h1v1h-1zM119 384h1v1h-1zM123 384h1v1h-1zM178 384h1v1h-1zM119 385h1v1h-1zM123 385h1v1h-1zM177 385h1v1h-1zM118 386h1v1h-1zM123 386h1v1h-1zM177 386h1v1h-1zM118 387h1v1h-1zM123 387h1v1h-1zM177 387h1v1h-1zM118 388h1v1h-1zM124 388h1v1h-1zM177 388h1v1h-1zM118 389h1v1h-1zM124 389h1v1h-1zM176 389h1v1h-1zM118 390h1v1h-1zM124 390h1v1h-1zM176 390h1v1h-1zM118 391h1v1h-1zM124 391h1v1h-1zM176 391h1v1h-1zM117 392h1v1h-1zM124 392h1v1h-1zM176 392h1v1h-1zM117 393h1v1h-1zM124 393h1v1h-1zM176 393h1v1h-1zM117 394h1v1h-1zM124 394h1v1h-1zM175 394h1v1h-1zM117 395h1v1h-1zM125 395h1v1h-1zM175 395h1v1h-1zM117 396h1v1h-1zM125 396h1v1h-1zM175 396h1v1h-1zM116 397h1v1h-1zM125 397h1v1h-1zM175 397h1v1h-1zM116 398h1v1h-1zM125 398h1v1h-1zM175 398h1v1h-1zM116 399h1v1h-1zM125 399h1v1h-1zM174 399h1v1h-1zM116 400h1v1h-1zM125 400h1v1h-1zM174 400h1v1h-1zM116 401h1v1h-1zM126 401h1v1h-1zM174 401h1v1h-1zM115 402h1v1h-1zM126 402h1v1h-1zM174 402h1v1h-1zM115 403h1v1h-1zM126 403h1v1h-1zM173 403h1v1h-1zM49 404h1v1h-1zM115 404h1v1h-1zM126 404h1v1h-1zM173 404h1v1h-1zM50 405h1v1h-1zM115 405h1v1h-1zM126 405h1v1h-1zM173 405h1v1h-1zM51 406h1v1h-1zM115 406h1v1h-1zM126 406h1v1h-1zM173 406h1v1h-1zM52 407h2v1h-2zM115 407h1v1h-1zM127 407h1v1h-1zM173 407h1v1h-1zM54 408h1v1h-1zM114 408h1v1h-1zM127 408h1v1h-1zM172 408h1v1h-1zM55 409h1v1h-1zM114 409h1v1h-1zM127 409h1v1h-1zM172 409h1v1h-1zM56 410h59v1h-59zM127 410h46v1h-46z"/>
<path fill="#008000" d="M49 41h1v1h-1zM49 42h1v1h-1zM49 43h1v1h-1zM49 44h1v1h-1zM49 45h1v1h-1zM49 46h1v1h-1zM49 47h1v1h-1zM49 48h1v1h-1zM49 49h1v1h-1zM49 50h1v1h-1zM50 51h1v1h-1zM50 52h1v1h-1zM50 53h1v1h-1zM50 54h1v1h-1zM50 55h1v1h-1zM50 56h1v1h-1zM50 57h1v1h-1zM50 58h1v1h-1zM50 59h1v1h-1zM50 60h1v1h-1zM50 61h1v1h-1zM50 62h1v1h-1zM50 63h1v1h-1zM50 64h1v1h-1zM50 65h1v1h-1zM50 66h1v1h-1zM50 67h1v1h-1zM50 68h1v1h-1zM50 69h1v1h-1zM51 70h1v1h-1zM51 71h1v1h-1zM51 72h1v1h-1zM51 73h1v1h-1zM51 74h1v1h-1zM51 75h1v1h-1zM51 76h1v1h-1zM51 77h1v1h-1zM51 78h1v1h-1zM51 79h1v1h-1zM51 80h1v1h-1zM51 81h1v1h-1zM51 82h1v1h-1zM51 83h1v1h-1zM51 84h1v1h-1zM51 85h1v1h-1zM51 86h1v1h-1zM51 87h1v1h-1zM52 88h1v1h-1zM52 89h1v1h-1zM52 90h1v1h-1zM52 91h1v1h-1zM52 92h1v1h-1zM52 93h1v1h-1zM52 94h1v1h-1zM52 95h1v1h-1zM52 96h1v1h-1zM52 97h1v1h-1zM52 98h1v1h-1zM52 99h1v1h-1zM52 100h1v1h-1zM52 101h1v1h-1zM52 102h1v1h-1zM52 103h1v1h-1zM52 104h1v1h-1zM52 105h1v1h-1zM52 106h1v1h-1zM53 107h1v1h-1zM53 108h1v1h-1zM53 109h1v1h-1zM53 110h1v1h-1zM53 111h1v1h-1zM53 112h1v1h-1zM53 113h1v1h-1zM53 114h1v1h-1zM53 115h1v1h-1zM53 116h1v1h-1zM53 117h1v1h-1zM53 118h1v1h-1zM53 119h1v1h-1zM53 120h1v1h-1zM53 121h1v1h-1zM53 122h1v1h-1zM53 123h1v1h-1zM53 124h1v1h-1zM53 125h1v1h-1zM54 126h1v1h-1zM54 127h1v1h-1zM54 128h1v1h-1zM54 129h1v1h-1zM54 130h1v1h-1zM54 131h1v1h-1zM54 132h1v1h-1zM54 133h1v1h-1zM54 134h1v1h-1zM54 135h1v1h-1zM54 136h1v1h-1zM54 137h1v1h-1zM54 138h1v1h-1zM54 139h1v1h-1zM54 140h1v1h-1zM54 141h1v1h-1zM54 142h1v1h-1zM54 143h1v1h-1zM55 144h1v1h-1zM55 145h1v1h-1zM55 146h1v1h-1zM55 147h1v1h-1zM55 148h1v1h-1zM55 149h1v1h-1zM55 150h1v1h-1zM55 151h1v1h-1zM55 152h1v1h-1zM55 153h1v1h-1zM55 154h1v1h-1zM55 155h1v1h-1zM55 156h1v1h-1zM55 157h1v1h-1zM55 158h1v1h-1zM55 159h1v1h-1zM55 160h1v1h-1zM55 161h1v1h-1zM55 162h1v1h-1zM56 163h1v1h-1zM56 164h1v1h-1zM56 165h1v1h-1zM56 166h1v1h-1zM56 167h1v1h-1zM56 168h1v1h-1zM56 169h1v1h-1zM56 170h1v1h-1zM56 171h1v1h-1zM56 172h1v1h-1zM56 173h1v1h-1zM56 174h1v1h-1zM56 175h1v1h-1zM56 176h1v1h-1zM56 177h1v1h-1zM56 178h1v1h-1zM56 179h1v1h-1zM56 180h1v1h-1zM56 181h1v1h-1zM56 182h1v1h-1zM57 183h1v1h-1zM57 184h1v1h-1zM57 185h1v1h-1zM57 186h1v1h-1zM57 187h1v1h-1zM57 188h1v1h-1zM57 189h1v1h-1zM57 190h1v1h-1zM57 191h1v1h-1zM57 192h1v1h-1zM57 193h1v1h-1zM57 194h1v1h-1zM57 195h1v1h-1zM57 196h1v1h-1zM57 197h1v1h-1zM121 197h1v1h-1zM57 198h1v1h-1zM121 198h1v1h-1zM57 199h1v1h-1zM121 199h1v1h-1zM57 200h1v1h-1zM121 200h1v1h-1zM57 201h1v1h-1zM121 201h1v1h-1zM57 202h1v1h-1zM120 202h1v1h-1zM122 202h1v1h-1zM57 203h1v1h-1zM120 203h1v1h-1zM122 203h1v1h-1zM58 204h1v1h-1zM120 204h1v1h-1zM122 204h1v1h-1zM58 205h1v1h-1zM120 205h1v1h-1zM122 205h1v1h-1zM58 206h1v1h-1zM120 206h1v1h-1zM122 206h1v1h-1zM58 207h1v1h-1zM120 207h1v1h-1zM122 207h1v1h-1zM943 207h1v1h-1zM58 208h1v1h-1zM120 208h1v1h-1zM122 208h1v1h-1zM943 208h1v1h-1zM58 209h1v1h-1zM120 209h1v1h-1zM122 209h1v1h-1zM942 209h1v1h-1zM58 210h1v1h-1zM119 210h1v1h-1zM122 210h1v1h-1zM942 210h1v1h-1zM58 211h1v1h-1zM119 211h1v1h-1zM122 211h1v1h-1zM942 211h1v1h-1zM58 212h1v1h-1zM119 212h1v1h-1zM123 212h1v1h-1zM941 212h1v1h-1zM58 213h1v1h-1zM119 213h1v1h-1zM123 213h1v1h-1zM941 213h1v1h-1zM58 214h1v1h-1zM119 214h1v1h-1zM123 214h1v1h-1zM941 214h1v1h-1zM58 215h1v1h-1zM119 215h1v1h-1zM123 215h1v1h-1zM940 215h1v1h-1zM58 216h1v1h-1zM119 216h1v1h-1zM123 216h1v1h-1zM940 216h1v1h-1zM58 217h1v1h-1zM119 217h1v1h-1zM123 217h1v1h-1zM940 217h1v1h-1zM58 218h1v1h-1zM118 218h1v1h-1zM123 218h1v1h-1zM940 218h1v1h-1zM58 219h1v1h-1zM118 219h1v1h-1zM123 219h1v1h-1zM939 219h1v1h-1zM58 220h1v1h-1zM118 220h1v1h-1zM123 220h1v1h-1zM939 220h1v1h-1zM58 221h1v1h-1zM118 221h1v1h-1zM123 221h1v1h-1zM939 221h1v1h-1zM58 222h1v1h-1zM118 222h1v1h-1zM124 222h1v1h-1zM938 222h1v1h-1zM58 223h1v1h-1zM118 223h1v1h-1zM124 223h1v1h-1zM938 223h1v1h-1zM58 224h1v1h-1zM118 224h1v1h-1zM124 224h1v1h-1zM885 224h8v1h-8zM916 224h3v1h-3zM938 224h1v1h-1zM58 225h1v1h-1zM118 225h1v1h-1zM124 225h1v1h-1zM883 225h2v1h-2zM893 225h4v1h-4zM913 225h3v1h-3zM919 225h4v1h-4zM937 225h1v1h-1zM59 226h1v1h-1zM117 226h1v1h-1zM124 226h1v1h-1zM833 226h8v1h-8zM881 226h2v1h-2zM897 226h16v1h-16zM923 226h15v1h-15zM59 227h1v1h-1zM117 227h1v1h-1zM124 227h1v1h-1zM831 227h2v1h-2zM841 227h4v1h-4zM879 227h2v1h-2zM59 228h1v1h-1zM117 228h1v1h-1zM124 228h1v1h-1zM794 228h2v1h-2zM813 228h2v1h-2zM829 228h2v1h-2zM845 228h9v1h-9zM864 228h3v1h-3zM877 228h2v1h-2zM59 229h1v1h-1zM117 229h1v1h-1zM124 229h1v1h-1zM792 229h2v1h-2zM796 229h4v1h-4zM811 229h2v1h-2zM815 229h4v1h-4zM827 229h2v1h-2zM854 229h4v1h-4zM861 229h3v1h-3zM867 229h4v1h-4zM874 229h3v1h-3zM59 230h1v1h-1zM117 230h1v1h-1zM124 230h1v1h-1zM781 230h2v1h-2zM791 230h1v1h-1zM800 230h3v1h-3zM810 230h1v1h-1zM819 230h8v1h-8zM858 230h3v1h-3zM871 230h3v1h-3zM59 231h1v1h-1zM117 231h1v1h-1zM125 231h1v1h-1zM779 231h2v1h-2zM783 231h4v1h-4zM789 231h2v1h-2zM803 231h3v1h-3zM808 231h2v1h-2zM59 232h1v1h-1zM117 232h1v1h-1zM125 232h1v1h-1zM778 232h1v1h-1zM787 232h2v1h-2zM806 232h2v1h-2zM59 233h1v1h-1zM117 233h1v1h-1zM125 233h1v1h-1zM776 233h2v1h-2zM59 234h1v1h-1zM116 234h1v1h-1zM125 234h1v1h-1zM767 234h9v1h-9zM59 235h1v1h-1zM116 235h1v1h-1zM125 235h1v1h-1zM764 235h3v1h-3zM59 236h1v1h-1zM116 236h1v1h-1zM125 236h1v1h-1zM404 236h3v1h-3zM417 236h2v1h-2zM476 236h2v1h-2zM490 236h1v1h-1zM748 236h3v1h-3zM761 236h3v1h-3zM59 237h1v1h-1zM116 237h1v1h-1zM125 237h1v1h-1zM402 237h2v1h-2zM407 237h2v1h-2zM415 237h2v1h-2zM419 237h2v1h-2zM474 237h2v1h-2zM478 237h2v1h-2zM488 237h2v1h-2zM491 237h2v1h-2zM744 237h4v1h-4zM751 237h3v1h-3zM757 237h4v1h-4zM59 238h1v1h-1zM116 238h1v1h-1zM125 238h1v1h-1zM400 238h2v1h-2zM409 238h2v1h-2zM413 238h2v1h-2zM421 238h2v1h-2zM472 238h2v1h-2zM480 238h1v1h-1zM486 238h2v1h-2zM493 238h1v1h-1zM739 238h5v1h-5zM754 238h3v1h-3zM59 239h1v1h-1zM116 239h1v1h-1zM125 239h1v1h-1zM398 239h2v1h-2zM411 239h2v1h-2zM423 239h2v1h-2zM470 239h2v1h-2zM481 239h2v1h-2zM484 239h2v1h-2zM494 239h2v1h-2zM736 239h3v1h-3zM59 240h1v1h-1zM116 240h1v1h-1zM125 240h1v1h-1zM396 240h2v1h-2zM425 240h14v1h-14zM469 240h1v1h-1zM483 240h1v1h-1zM496 240h2v1h-2zM528 240h8v1h-8zM548 240h1v1h-1zM734 240h2v1h-2zM59 241h1v1h-1zM116 241h1v1h-1zM126 241h1v1h-1zM394 241h2v1h-2zM439 241h2v1h-2zM468 241h1v1h-1zM498 241h4v1h-4zM524 241h4v1h-4zM536 241h2v1h-2zM546 241h2v1h-2zM549 241h2v1h-2zM733 241h1v1h-1zM59 242h1v1h-1zM115 242h1v1h-1zM126 242h1v1h-1zM211 242h1v1h-1zM295 242h9v1h-9zM314 242h8v1h-8zM393 242h1v1h-1zM441 242h1v1h-1zM467 242h1v1h-1zM502 242h9v1h-9zM521 242h3v1h-3zM538 242h1v1h-1zM544 242h2v1h-2zM551 242h1v1h-1zM732 242h1v1h-1zM59 243h1v1h-1zM115 243h1v1h-1zM126 243h1v1h-1zM211 243h3v1h-3zM294 243h1v1h-1zM304 243h3v1h-3zM310 243h4v1h-4zM322 243h2v1h-2zM391 243h2v1h-2zM442 243h2v1h-2zM467 243h1v1h-1zM511 243h4v1h-4zM518 243h3v1h-3zM539 243h2v1h-2zM542 243h2v1h-2zM552 243h2v1h-2zM730 243h2v1h-2zM59 244h1v1h-1zM115 244h1v1h-1zM126 244h1v1h-1zM210 244h1v1h-1zM214 244h2v1h-2zM294 244h1v1h-1zM307 244h3v1h-3zM324 244h2v1h-2zM389 244h2v1h-2zM444 244h9v1h-9zM466 244h1v1h-1zM515 244h3v1h-3zM541 244h1v1h-1zM554 244h8v1h-8zM728 244h2v1h-2zM59 245h1v1h-1zM115 245h1v1h-1zM126 245h1v1h-1zM210 245h1v1h-1zM216 245h2v1h-2zM293 245h1v1h-1zM326 245h2v1h-2zM387 245h2v1h-2zM453 245h3v1h-3zM465 245h1v1h-1zM562 245h1v1h-1zM726 245h2v1h-2zM59 246h1v1h-1zM115 246h1v1h-1zM126 246h1v1h-1zM209 246h1v1h-1zM218 246h3v1h-3zM292 246h1v1h-1zM328 246h8v1h-8zM367 246h1v1h-1zM380 246h7v1h-7zM456 246h9v1h-9zM563 246h1v1h-1zM724 246h2v1h-2zM60 247h1v1h-1zM115 247h1v1h-1zM126 247h1v1h-1zM209 247h1v1h-1zM221 247h4v1h-4zM291 247h1v1h-1zM336 247h4v1h-4zM366 247h1v1h-1zM368 247h2v1h-2zM378 247h2v1h-2zM564 247h1v1h-1zM722 247h2v1h-2zM60 248h1v1h-1zM115 248h1v1h-1zM126 248h1v1h-1zM208 248h1v1h-1zM225 248h2v1h-2zM291 248h1v1h-1zM340 248h15v1h-15zM365 248h1v1h-1zM370 248h1v1h-1zM376 248h2v1h-2zM565 248h1v1h-1zM606 248h9v1h-9zM657 248h3v1h-3zM720 248h2v1h-2zM60 249h1v1h-1zM115 249h1v1h-1zM126 249h1v1h-1zM208 249h1v1h-1zM227 249h2v1h-2zM290 249h1v1h-1zM355 249h2v1h-2zM363 249h2v1h-2zM371 249h2v1h-2zM374 249h2v1h-2zM566 249h1v1h-1zM604 249h2v1h-2zM615 249h3v1h-3zM655 249h2v1h-2zM660 249h4v1h-4zM718 249h2v1h-2zM60 250h1v1h-1zM114 250h1v1h-1zM126 250h1v1h-1zM207 250h1v1h-1zM229 250h2v1h-2zM282 250h8v1h-8zM357 250h1v1h-1zM362 250h1v1h-1zM373 250h1v1h-1zM567 250h2v1h-2zM603 250h1v1h-1zM618 250h2v1h-2zM653 250h2v1h-2zM664 250h3v1h-3zM702 250h16v1h-16zM60 251h1v1h-1zM114 251h1v1h-1zM127 251h1v1h-1zM207 251h1v1h-1zM231 251h1v1h-1zM280 251h2v1h-2zM358 251h2v1h-2zM361 251h1v1h-1zM569 251h4v1h-4zM601 251h2v1h-2zM620 251h2v1h-2zM651 251h2v1h-2zM667 251h3v1h-3zM699 251h3v1h-3zM60 252h1v1h-1zM114 252h1v1h-1zM127 252h1v1h-1zM192 252h1v1h-1zM206 252h1v1h-1zM232 252h1v1h-1zM257 252h1v1h-1zM279 252h1v1h-1zM360 252h1v1h-1zM573 252h8v1h-8zM599 252h2v1h-2zM622 252h1v1h-1zM649 252h2v1h-2zM670 252h2v1h-2zM684 252h2v1h-2zM696 252h3v1h-3zM60 253h1v1h-1zM114 253h1v1h-1zM127 253h1v1h-1zM192 253h2v1h-2zM206 253h1v1h-1zM233 253h1v1h-1zM255 253h2v1h-2zM258 253h1v1h-1zM277 253h2v1h-2zM581 253h2v1h-2zM595 253h4v1h-4zM623 253h1v1h-1zM647 253h2v1h-2zM672 253h2v1h-2zM682 253h2v1h-2zM686 253h3v1h-3zM692 253h4v1h-4zM60 254h1v1h-1zM108 254h7v1h-7zM127 254h1v1h-1zM191 254h1v1h-1zM193 254h1v1h-1zM205 254h1v1h-1zM234 254h2v1h-2zM243 254h3v1h-3zM253 254h2v1h-2zM259 254h1v1h-1zM276 254h1v1h-1zM583 254h2v1h-2zM592 254h3v1h-3zM624 254h2v1h-2zM644 254h3v1h-3zM674 254h1v1h-1zM680 254h2v1h-2zM689 254h3v1h-3zM60 255h1v1h-1zM108 255h1v1h-1zM127 255h1v1h-1zM191 255h1v1h-1zM194 255h1v1h-1zM205 255h1v1h-1zM236 255h1v1h-1zM239 255h4v1h-4zM246 255h3v1h-3zM251 255h2v1h-2zM260 255h1v1h-1zM274 255h2v1h-2zM585 255h2v1h-2zM589 255h3v1h-3zM626 255h1v1h-1zM642 255h2v1h-2zM675 255h2v1h-2zM678 255h2v1h-2zM60 256h1v1h-1zM108 256h1v1h-1zM127 256h1v1h-1zM191 256h1v1h-1zM195 256h1v1h-1zM204 256h1v1h-1zM237 256h2v1h-2zM249 256h2v1h-2zM261 256h1v1h-1zM272 256h2v1h-2zM587 256h2v1h-2zM627 256h1v1h-1zM640 256h2v1h-2zM677 256h1v1h-1zM60 257h1v1h-1zM108 257h1v1h-1zM127 257h1v1h-1zM190 257h1v1h-1zM195 257h1v1h-1zM203 257h1v1h-1zM262 257h1v1h-1zM270 257h2v1h-2zM628 257h1v1h-1zM638 257h2v1h-2zM60 258h1v1h-1zM108 258h1v1h-1zM127 258h1v1h-1zM190 258h1v1h-1zM196 258h1v1h-1zM201 258h2v1h-2zM263 258h7v1h-7zM629 258h2v1h-2zM636 258h2v1h-2zM60 259h1v1h-1zM107 259h1v1h-1zM127 259h1v1h-1zM190 259h1v1h-1zM197 259h1v1h-1zM200 259h1v1h-1zM631 259h1v1h-1zM634 259h2v1h-2zM60 260h1v1h-1zM107 260h1v1h-1zM127 260h1v1h-1zM189 260h1v1h-1zM197 260h1v1h-1zM199 260h1v1h-1zM632 260h2v1h-2zM60 261h1v1h-1zM107 261h1v1h-1zM127 261h1v1h-1zM189 261h1v1h-1zM198 261h1v1h-1zM60 262h1v1h-1zM107 262h1v1h-1zM127 262h1v1h-1zM189 262h1v1h-1zM60 263h1v1h-1zM107 263h1v1h-1zM127 263h1v1h-1zM188 263h1v1h-1zM60 264h1v1h-1zM107 264h1v1h-1zM127 264h1v1h-1zM188 264h1v1h-1zM60 265h1v1h-1zM107 265h1v1h-1zM128 265h1v1h-1zM187 265h1v1h-1zM60 266h1v1h-1zM107 266h1v1h-1zM128 266h1v1h-1zM187 266h1v1h-1zM60 267h1v1h-1zM106 267h1v1h-1zM128 267h1v1h-1zM187 267h1v1h-1zM61 268h1v1h-1zM106 268h1v1h-1zM128 268h1v1h-1zM186 268h1v1h-1zM61 269h1v1h-1zM106 269h1v1h-1zM128 269h1v1h-1zM186 269h1v1h-1zM61 270h1v1h-1zM106 270h1v1h-1zM128 270h1v1h-1zM186 270h1v1h-1zM61 271h1v1h-1zM106 271h1v1h-1zM128 271h1v1h-1zM185 271h1v1h-1zM61 272h1v1h-1zM106 272h1v1h-1zM128 272h1v1h-1zM185 272h1v1h-1zM61 273h1v1h-1zM106 273h1v1h-1zM128 273h1v1h-1zM185 273h1v1h-1zM61 274h1v1h-1zM106 274h1v1h-1zM128 274h1v1h-1zM184 274h1v1h-1zM61 275h1v1h-1zM106 275h1v1h-1zM128 275h1v1h-1zM184 275h1v1h-1zM61 276h1v1h-1zM105 276h1v1h-1zM128 276h1v1h-1zM183 276h1v1h-1zM61 277h1v1h-1zM105 277h1v1h-1zM128 277h1v1h-1zM183 277h1v1h-1zM61 278h1v1h-1zM105 278h1v1h-1zM128 278h1v1h-1zM183 278h1v1h-1zM61 279h1v1h-1zM105 279h1v1h-1zM128 279h1v1h-1zM182 279h1v1h-1zM61 280h1v1h-1zM105 280h1v1h-1zM128 280h1v1h-1zM182 280h1v1h-1zM61 281h1v1h-1zM105 281h1v1h-1zM128 281h1v1h-1zM181 281h1v1h-1zM61 282h1v1h-1zM105 282h1v1h-1zM128 282h1v1h-1zM181 282h1v1h-1zM61 283h1v1h-1zM105 283h1v1h-1zM128 283h1v1h-1zM181 283h1v1h-1zM61 284h1v1h-1zM104 284h1v1h-1zM129 284h1v1h-1zM180 284h1v1h-1zM61 285h1v1h-1zM104 285h1v1h-1zM129 285h1v1h-1zM180 285h1v1h-1zM61 286h1v1h-1zM104 286h1v1h-1zM129 286h1v1h-1zM179 286h1v1h-1zM61 287h1v1h-1zM104 287h1v1h-1zM129 287h1v1h-1zM179 287h1v1h-1zM61 288h1v1h-1zM104 288h1v1h-1zM129 288h1v1h-1zM179 288h1v1h-1zM61 289h1v1h-1zM104 289h1v1h-1zM129 289h1v1h-1zM179 289h1v1h-1zM62 290h1v1h-1zM104 290h1v1h-1zM129 290h1v1h-1zM178 290h1v1h-1zM62 291h1v1h-1zM104 291h1v1h-1zM129 291h1v1h-1zM178 291h1v1h-1zM62 292h1v1h-1zM103 292h1v1h-1zM129 292h1v1h-1zM178 292h1v1h-1zM62 293h1v1h-1zM103 293h1v1h-1zM129 293h1v1h-1zM178 293h1v1h-1zM62 294h1v1h-1zM103 294h1v1h-1zM129 294h1v1h-1zM178 294h1v1h-1zM62 295h1v1h-1zM103 295h1v1h-1zM129 295h1v1h-1zM178 295h1v1h-1zM62 296h1v1h-1zM103 296h1v1h-1zM129 296h1v1h-1zM177 296h1v1h-1zM62 297h1v1h-1zM103 297h1v1h-1zM129 297h1v1h-1zM177 297h1v1h-1zM62 298h1v1h-1zM103 298h1v1h-1zM129 298h1v1h-1zM177 298h1v1h-1zM62 299h1v1h-1zM103 299h1v1h-1zM129 299h1v1h-1zM177 299h1v1h-1zM62 300h1v1h-1zM103 300h1v1h-1zM129 300h1v1h-1zM177 300h1v1h-1zM62 301h1v1h-1zM102 301h1v1h-1zM129 301h1v1h-1zM176 301h1v1h-1zM62 302h1v1h-1zM102 302h1v1h-1zM129 302h1v1h-1zM176 302h1v1h-1zM62 303h1v1h-1zM102 303h1v1h-1zM130 303h1v1h-1zM176 303h1v1h-1zM63 304h1v1h-1zM102 304h1v1h-1zM130 304h1v1h-1zM176 304h1v1h-1zM63 305h1v1h-1zM102 305h1v1h-1zM130 305h1v1h-1zM176 305h1v1h-1zM63 306h1v1h-1zM102 306h1v1h-1zM130 306h1v1h-1zM176 306h1v1h-1zM63 307h1v1h-1zM102 307h1v1h-1zM130 307h1v1h-1zM175 307h1v1h-1zM63 308h1v1h-1zM102 308h1v1h-1zM130 308h1v1h-1zM175 308h1v1h-1zM63 309h1v1h-1zM101 309h1v1h-1zM130 309h1v1h-1zM175 309h1v1h-1zM64 310h1v1h-1zM101 310h1v1h-1zM130 310h1v1h-1zM175 310h1v1h-1zM64 311h1v1h-1zM101 311h1v1h-1zM130 311h1v1h-1zM175 311h1v1h-1zM64 312h1v1h-1zM101 312h1v1h-1zM130 312h1v1h-1zM175 312h1v1h-1zM64 313h1v1h-1zM100 313h2v1h-2zM130 313h1v1h-1zM174 313h1v1h-1zM64 314h1v1h-1zM98 314h2v1h-2zM130 314h1v1h-1zM174 314h1v1h-1zM64 315h1v1h-1zM96 315h2v1h-2zM130 315h1v1h-1zM174 315h1v1h-1zM64 316h1v1h-1zM95 316h1v1h-1zM130 316h1v1h-1zM174 316h1v1h-1zM65 317h1v1h-1zM95 317h1v1h-1zM130 317h1v1h-1zM174 317h1v1h-1zM65 318h1v1h-1zM95 318h1v1h-1zM130 318h1v1h-1zM173 318h1v1h-1zM65 319h1v1h-1zM95 319h1v1h-1zM130 319h1v1h-1zM173 319h1v1h-1zM65 320h1v1h-1zM95 320h1v1h-1zM130 320h1v1h-1zM173 320h1v1h-1zM65 321h1v1h-1zM95 321h1v1h-1zM130 321h1v1h-1zM173 321h1v1h-1zM65 322h1v1h-1zM95 322h1v1h-1zM130 322h1v1h-1zM173 322h1v1h-1zM66 323h1v1h-1zM94 323h1v1h-1zM131 323h1v1h-1zM173 323h1v1h-1zM66 324h1v1h-1zM94 324h1v1h-1zM131 324h1v1h-1zM159 324h1v1h-1zM172 324h1v1h-1zM66 325h1v1h-1zM94 325h1v1h-1zM131 325h1v1h-1zM159 325h2v1h-2zM172 325h1v1h-1zM66 326h1v1h-1zM94 326h1v1h-1zM131 326h1v1h-1zM159 326h2v1h-2zM172 326h1v1h-1zM66 327h1v1h-1zM94 327h1v1h-1zM131 327h1v1h-1zM159 327h1v1h-1zM161 327h1v1h-1zM171 327h1v1h-1zM66 328h1v1h-1zM94 328h1v1h-1zM131 328h1v1h-1zM159 328h1v1h-1zM162 328h1v1h-1zM171 328h1v1h-1zM66 329h1v1h-1zM94 329h1v1h-1zM131 329h1v1h-1zM158 329h1v1h-1zM163 329h1v1h-1zM170 329h1v1h-1zM67 330h1v1h-1zM94 330h1v1h-1zM131 330h1v1h-1zM158 330h1v1h-1zM163 330h1v1h-1zM169 330h1v1h-1zM67 331h1v1h-1zM94 331h1v1h-1zM131 331h1v1h-1zM158 331h1v1h-1zM164 331h1v1h-1zM168 331h1v1h-1zM67 332h1v1h-1zM94 332h1v1h-1zM131 332h1v1h-1zM158 332h1v1h-1zM165 332h1v1h-1zM168 332h1v1h-1zM67 333h1v1h-1zM94 333h1v1h-1zM131 333h1v1h-1zM158 333h1v1h-1zM165 333h1v1h-1zM167 333h1v1h-1zM67 334h1v1h-1zM94 334h1v1h-1zM131 334h1v1h-1zM158 334h1v1h-1zM166 334h1v1h-1zM67 335h1v1h-1zM94 335h1v1h-1zM131 335h1v1h-1zM158 335h1v1h-1zM67 336h1v1h-1zM93 336h1v1h-1zM131 336h1v1h-1zM158 336h1v1h-1zM68 337h1v1h-1zM93 337h1v1h-1zM131 337h1v1h-1zM157 337h1v1h-1zM68 338h1v1h-1zM93 338h1v1h-1zM131 338h1v1h-1zM157 338h1v1h-1zM68 339h1v1h-1zM93 339h1v1h-1zM131 339h1v1h-1zM157 339h1v1h-1zM68 340h1v1h-1zM93 340h1v1h-1zM131 340h1v1h-1zM157 340h1v1h-1zM68 341h1v1h-1zM93 341h1v1h-1zM131 341h1v1h-1zM157 341h1v1h-1zM68 342h1v1h-1zM93 342h1v1h-1zM132 342h1v1h-1zM157 342h1v1h-1zM69 343h1v1h-1zM93 343h1v1h-1zM132 343h1v1h-1zM157 343h1v1h-1zM69 344h1v1h-1zM93 344h1v1h-1zM132 344h1v1h-1zM157 344h1v1h-1zM69 345h1v1h-1zM93 345h1v1h-1zM132 345h1v1h-1zM157 345h1v1h-1zM69 346h1v1h-1zM93 346h1v1h-1zM132 346h1v1h-1zM156 346h1v1h-1zM69 347h1v1h-1zM93 347h1v1h-1zM132 347h1v1h-1zM156 347h1v1h-1zM69 348h1v1h-1zM93 348h1v1h-1zM132 348h1v1h-1zM156 348h1v1h-1zM69 349h1v1h-1zM92 349h1v1h-1zM132 349h1v1h-1zM156 349h1v1h-1zM70 350h1v1h-1zM92 350h1v1h-1zM132 350h1v1h-1zM156 350h1v1h-1zM70 351h1v1h-1zM92 351h1v1h-1zM132 351h1v1h-1zM156 351h1v1h-1zM70 352h1v1h-1zM92 352h1v1h-1zM132 352h1v1h-1zM156 352h1v1h-1zM70 353h1v1h-1zM92 353h1v1h-1zM132 353h1v1h-1zM156 353h1v1h-1zM70 354h1v1h-1zM92 354h1v1h-1zM132 354h1v1h-1zM155 354h1v1h-1zM70 355h1v1h-1zM92 355h1v1h-1zM132 355h1v1h-1zM155 355h1v1h-1zM70 356h1v1h-1zM92 356h1v1h-1zM132 356h1v1h-1zM155 356h1v1h-1zM70 357h1v1h-1zM92 357h1v1h-1zM132 357h1v1h-1zM155 357h1v1h-1zM71 358h1v1h-1zM92 358h1v1h-1zM132 358h1v1h-1zM155 358h1v1h-1zM71 359h1v1h-1zM92 359h1v1h-1zM132 359h1v1h-1zM155 359h1v1h-1zM71 360h1v1h-1zM92 360h1v1h-1zM132 360h1v1h-1zM155 360h1v1h-1zM71 361h1v1h-1zM92 361h1v1h-1zM133 361h1v1h-1zM155 361h1v1h-1zM71 362h1v1h-1zM91 362h1v1h-1zM133 362h1v1h-1zM155 362h1v1h-1zM71 363h1v1h-1zM91 363h1v1h-1zM133 363h1v1h-1zM154 363h1v1h-1zM71 364h1v1h-1zM91 364h1v1h-1zM133 364h1v1h-1zM154 364h1v1h-1zM71 365h1v1h-1zM91 365h1v1h-1zM133 365h1v1h-1zM154 365h1v1h-1zM72 366h1v1h-1zM91 366h1v1h-1zM133 366h1v1h-1zM154 366h1v1h-1zM72 367h1v1h-1zM91 367h1v1h-1zM133 367h1v1h-1zM154 367h1v1h-1zM72 368h1v1h-1zM91 368h1v1h-1zM133 368h1v1h-1zM154 368h1v1h-1zM72 369h1v1h-1zM91 369h1v1h-1zM133 369h1v1h-1zM154 369h1v1h-1zM72 370h1v1h-1zM91 370h1v1h-1zM133 370h1v1h-1zM154 370h1v1h-1zM72 371h1v1h-1zM91 371h1v1h-1zM134 371h1v1h-1zM153 371h1v1h-1zM72 372h1v1h-1zM91 372h1v1h-1zM134 372h1v1h-1zM153 372h1v1h-1zM73 373h1v1h-1zM91 373h1v1h-1zM135 373h1v1h-1zM153 373h1v1h-1zM73 374h1v1h-1zM90 374h1v1h-1zM135 374h1v1h-1zM153 374h1v1h-1zM73 375h1v1h-1zM90 375h1v1h-1zM136 375h1v1h-1zM153 375h1v1h-1zM73 376h1v1h-1zM90 376h1v1h-1zM137 376h1v1h-1zM151 376h2v1h-2zM73 377h1v1h-1zM90 377h1v1h-1zM137 377h1v1h-1zM149 377h2v1h-2zM73 378h1v1h-1zM90 378h1v1h-1zM138 378h1v1h-1zM147 378h2v1h-2zM73 379h1v1h-1zM90 379h1v1h-1zM138 379h1v1h-1zM145 379h2v1h-2zM73 380h1v1h-1zM90 380h1v1h-1zM139 380h1v1h-1zM143 380h2v1h-2zM74 381h1v1h-1zM90 381h1v1h-1zM139 381h1v1h-1zM141 381h2v1h-2zM74 382h1v1h-1zM90 382h1v1h-1zM140 382h1v1h-1zM74 383h1v1h-1zM90 383h1v1h-1zM74 384h1v1h-1zM90 384h1v1h-1zM74 385h1v1h-1zM90 385h1v1h-1zM74 386h1v1h-1zM90 386h1v1h-1zM74 387h1v1h-1zM89 387h1v1h-1zM74 388h1v1h-1zM89 388h1v1h-1zM75 389h1v1h-1zM89 389h1v1h-1zM75 390h1v1h-1zM89 390h1v1h-1zM75 391h1v1h-1zM89 391h1v1h-1zM75 392h2v1h-2zM89 392h1v1h-1zM77 393h4v1h-4zM89 393h1v1h-1zM81 394h2v1h-2zM89 394h1v1h-1zM83 395h1v1h-1zM89 395h1v1h-1zM83 396h1v1h-1zM89 396h1v1h-1zM84 397h1v1h-1zM89 397h1v1h-1zM84 398h1v1h-1zM89 398h1v1h-1zM85 399h1v1h-1zM89 399h1v1h-1zM85 400h1v1h-1zM88 400h1v1h-1zM86 401h1v1h-1zM88 401h1v1h-1zM86 402h1v1h-1zM88 402h1v1h-1zM87 403h2v1h-2zM87 404h2v1h-2zM88 405h1v1h-1zM88 406h1v1h-1z"/>
<path fill="#0000c8" d="M942 9h2v1h-2zM939 10h3v1h-3zM936 11h3v1h-3zM932 12h4v1h-4zM929 13h3v1h-3zM926 14h3v1h-3zM923 15h3v1h-3zM919 16h4v1h-4zM910 17h9v1h-9zM906 18h4v1h-4zM903 19h3v1h-3zM900 20h3v1h-3zM897 21h3v1h-3zM893 22h4v1h-4zM890 23h3v1h-3zM887 24h3v1h-3zM877 25h10v1h-10zM874 26h3v1h-3zM871 27h3v1h-3zM867 28h4v1h-4zM864 29h3v1h-3zM861 30h3v1h-3zM851 31h10v1h-10zM848 32h3v1h-3zM845 33h3v1h-3zM841 34h4v1h-4zM838 35h3v1h-3zM835 36h3v1h-3zM832 37h3v1h-3zM828 38h4v1h-4zM819 39h9v1h-9zM815 40h4v1h-4zM812 41h3v1h-3zM809 42h3v1h-3zM806 43h3v1h-3zM803 44h3v1h-3zM800 45h3v1h-3zM796 46h4v1h-4zM787 47h9v1h-9zM783 48h4v1h-4zM781 49h2v1h-2zM779 50h2v1h-2zM778 51h1v1h-1zM776 52h2v1h-2zM774 53h2v1h-2zM770 54h4v1h-4zM767 55h3v1h-3zM765 56h2v1h-2zM763 57h2v1h-2zM761 58h2v1h-2zM759 59h2v1h-2zM757 60h2v1h-2zM754 61h3v1h-3zM752 62h2v1h-2zM750 63h2v1h-2zM748 64h2v1h-2zM746 65h2v1h-2zM744 66h2v1h-2zM741 67h3v1h-3zM738 68h3v1h-3zM736 69h2v1h-2zM734 70h2v1h-2zM732 71h2v1h-2zM730 72h2v1h-2zM728 73h2v1h-2zM726 74h2v1h-2zM724 75h2v1h-2zM722 76h2v1h-2zM720 77h2v1h-2zM718 78h2v1h-2zM716 79h2v1h-2zM714 80h2v1h-2zM713 81h1v1h-1zM711 82h2v1h-2zM709 83h2v1h-2zM705 84h4v1h-4zM702 85h3v1h-3zM699 86h3v1h-3zM697 87h2v1h-2zM695 88h2v1h-2zM693 89h2v1h-2zM691 90h2v1h-2zM689 91h2v1h-2zM686 92h3v1h-3zM676 93h10v1h-10zM673 94h3v1h-3zM670 95h3v1h-3zM667 96h3v1h-3zM657 97h10v1h-10zM654 98h3v1h-3zM651 99h3v1h-3zM647 100h4v1h-4zM644 101h3v1h-3zM641 102h3v1h-3zM632 103h9v1h-9zM630 104h2v1h-2zM629 105h1v1h-1zM627 106h2v1h-2zM619 107h8v1h-8zM617 108h2v1h-2zM616 109h1v1h-1zM614 110h2v1h-2zM605 111h9v1h-9zM602 112h3v1h-3zM592 113h10v1h-10zM589 114h3v1h-3zM586 115h3v1h-3zM582 116h4v1h-4zM579 117h3v1h-3zM576 118h3v1h-3zM567 119h9v1h-9zM565 120h2v1h-2zM564 121h1v1h-1zM562 122h2v1h-2zM560 123h2v1h-2zM556 124h4v1h-4zM553 125h3v1h-3zM550 126h3v1h-3zM547 127h3v1h-3zM543 128h4v1h-4zM541 129h2v1h-2zM539 130h2v1h-2zM538 131h1v1h-1zM536 132h2v1h-2zM528 133h8v1h-8zM524 134h4v1h-4zM521 135h3v1h-3zM518 136h3v1h-3zM516 137h2v1h-2zM514 138h2v1h-2zM512 139h2v1h-2zM510 140h2v1h-2zM508 141h2v1h-2zM505 142h3v1h-3zM502 143h3v1h-3zM498 144h4v1h-4zM495 145h3v1h-3zM492 146h3v1h-3zM489 147h3v1h-3zM485 148h4v1h-4zM482 149h3v1h-3zM479 150h3v1h-3zM476 151h3v1h-3zM472 152h4v1h-4zM469 153h3v1h-3zM466 154h3v1h-3zM463 155h3v1h-3zM459 156h4v1h-4zM450 157h9v1h-9zM446 158h4v1h-4zM443 159h3v1h-3zM440 160h3v1h-3zM437 161h3v1h-3zM433 162h4v1h-4zM430 163h3v1h-3zM427 164h3v1h-3zM424 165h3v1h-3zM420 166h4v1h-4zM417 167h3v1h-3zM415 168h2v1h-2zM413 169h2v1h-2zM411 170h2v1h-2zM409 171h2v1h-2zM407 172h2v1h-2zM404 173h3v1h-3zM401 174h3v1h-3zM393 175h8v1h-8zM391 176h2v1h-2zM389 177h2v1h-2zM387 178h2v1h-2zM385 179h2v1h-2zM382 180h3v1h-3zM379 181h3v1h-3zM375 182h4v1h-4zM372 183h3v1h-3zM369 184h3v1h-3zM367 185h2v1h-2zM365 186h2v1h-2zM363 187h2v1h-2zM361 188h2v1h-2zM359 189h2v1h-2zM356 190h3v1h-3zM353 191h3v1h-3zM349 192h4v1h-4zM347 193h2v1h-2zM345 194h2v1h-2zM344 195h1v1h-1zM342 196h2v1h-2zM340 197h2v1h-2zM336 198h4v1h-4zM333 199h3v1h-3zM330 200h3v1h-3zM314 201h16v1h-16zM310 202h4v1h-4zM307 203h3v1h-3zM304 204h3v1h-3zM301 205h3v1h-3zM297 206h4v1h-4zM294 207h3v1h-3zM291 208h3v1h-3zM288 209h3v1h-3zM286 210h2v1h-2zM284 211h2v1h-2zM282 212h2v1h-2zM280 213h2v1h-2zM279 214h1v1h-1zM277 215h2v1h-2zM269 216h8v1h-8zM267 217h2v1h-2zM266 218h1v1h-1zM264 219h2v1h-2zM257 220h7v1h-7zM256 221h1v1h-1zM255 222h1v1h-1zM253 223h2v1h-2zM252 224h1v1h-1zM251 225h1v1h-1zM243 226h8v1h-8zM239 227h4v1h-4zM236 228h3v1h-3zM233 229h3v1h-3zM230 230h3v1h-3zM228 231h2v1h-2zM226 232h2v1h-2zM223 233h3v1h-3zM221 234h2v1h-2zM219 235h2v1h-2zM218 236h1v1h-1zM217 237h1v1h-1zM217 238h1v1h-1zM216 239h1v1h-1zM216 240h1v1h-1zM215 241h1v1h-1zM215 242h1v1h-1zM214 243h1v1h-1zM214 244h1v1h-1zM213 245h1v1h-1zM213 246h1v1h-1zM212 247h1v1h-1zM212 248h1v1h-1zM211 249h1v1h-1zM210 250h1v1h-1zM210 251h1v1h-1zM209 252h1v1h-1zM208 253h1v1h-1zM208 254h1v1h-1zM207 255h1v1h-1zM206 256h1v1h-1zM206 257h1v1h-1zM205 258h1v1h-1zM204 259h1v1h-1zM203 260h1v1h-1zM203 261h1v1h-1zM202 262h1v1h-1zM201 263h1v1h-1zM200 264h1v1h-1zM200 265h1v1h-1zM199 266h1v1h-1zM198 267h1v1h-1zM197 268h1v1h-1zM197 269h1v1h-1zM196 270h1v1h-1zM196 271h1v1h-1zM195 272h1v1h-1zM194 273h1v1h-1zM194 274h1v1h-1zM193 275h1v1h-1zM193 276h1v1h-1zM192 277h1v1h-1zM191 278h1v1h-1zM191 279h1v1h-1zM190 280h1v1h-1zM189 281h1v1h-1zM189 282h1v1h-1zM188 283h1v1h-1zM187 284h1v1h-1zM186 285h1v1h-1zM186 286h1v1h-1zM185 287h1v1h-1zM184 288h1v1h-1zM184 289h1v1h-1zM183 290h1v1h-1zM183 291h1v1h-1zM182 292h1v1h-1zM182 293h1v1h-1zM181 294h1v1h-1zM181 295h1v1h-1zM180 296h1v1h-1zM180 297h1v1h-1zM179 298h1v1h-1zM178 299h1v1h-1zM178 300h1v1h-1zM177 301h1v1h-1zM176 302h1v1h-1zM176 303h1v1h-1zM175 304h1v1h-1zM175 305h1v1h-1zM174 306h1v1h-1zM173 307h1v1h-1zM173 308h1v1h-1zM172 309h1v1h-1zM171 310h1v1h-1zM171 311h1v1h-1zM170 312h1v1h-1zM170 313h1v1h-1zM169 314h1v1h-1zM168 315h1v1h-1zM168 316h1v1h-1zM167 317h1v1h-1zM167 318h1v1h-1zM166 319h1v1h-1zM165 320h1v1h-1zM164 321h1v1h-1zM163 322h1v1h-1zM162 323h1v1h-1zM161 324h1v1h-1zM160 325h1v1h-1zM159 326h1v1h-1zM159 327h1v1h-1zM158 328h1v1h-1zM158 329h1v1h-1zM157 330h1v1h-1zM157 331h1v1h-1zM156 332h1v1h-1zM156 333h1v1h-1zM155 334h1v1h-1zM155 335h1v1h-1zM154 336h1v1h-1zM154 337h1v1h-1zM153 338h1v1h-1zM152 339h1v1h-1zM151 340h1v1h-1zM151 341h1v1h-1zM150 342h1v1h-1zM149 343h1v1h-1zM148 344h1v1h-1zM148 345h1v1h-1zM147 346h1v1h-1zM146 347h1v1h-1zM145 348h1v1h-1zM145 349h1v1h-1zM144 350h1v1h-1zM143 351h1v1h-1zM143 352h1v1h-1zM142 353h1v1h-1zM141 354h1v1h-1zM141 355h1v1h-1zM140 356h1v1h-1zM139 357h1v1h-1zM138 358h1v1h-1zM138 359h1v1h-1zM137 360h1v1h-1zM136 361h1v1h-1zM135 362h1v1h-1zM135 363h1v1h-1zM134 364h1v1h-1zM133 365h1v1h-1zM133 366h1v1h-1zM132 367h1v1h-1zM132 368h1v1h-1zM131 369h1v1h-1zM131 370h1v1h-1zM130 371h1v1h-1zM130 372h1v1h-1zM130 373h1v1h-1zM129 374h1v1h-1zM129 375h1v1h-1zM128 376h1v1h-1zM128 377h1v1h-1zM127 378h1v1h-1zM126 379h2v1h-2zM124 380h2v1h-2zM122 381h2v1h-2zM120 382h2v1h-2zM116 383h4v1h-4zM113 384h3v1h-3zM110 385h3v1h-3zM107 386h3v1h-3zM103 387h4v1h-4zM100 388h3v1h-3zM97 389h3v1h-3zM94 390h3v1h-3zM90 391h4v1h-4zM87 392h3v1h-3zM84 393h3v1h-3zM81 394h3v1h-3zM77 395h4v1h-4zM74 396h3v1h-3zM71 397h3v1h-3zM68 398h3v1h-3zM64 399h4v1h-4zM61 400h3v1h-3zM58 401h3v1h-3zM55 402h3v1h-3zM51 403h4v1h-4zM49 404h2v1h-2z"/>
</svg>
</body></html>
